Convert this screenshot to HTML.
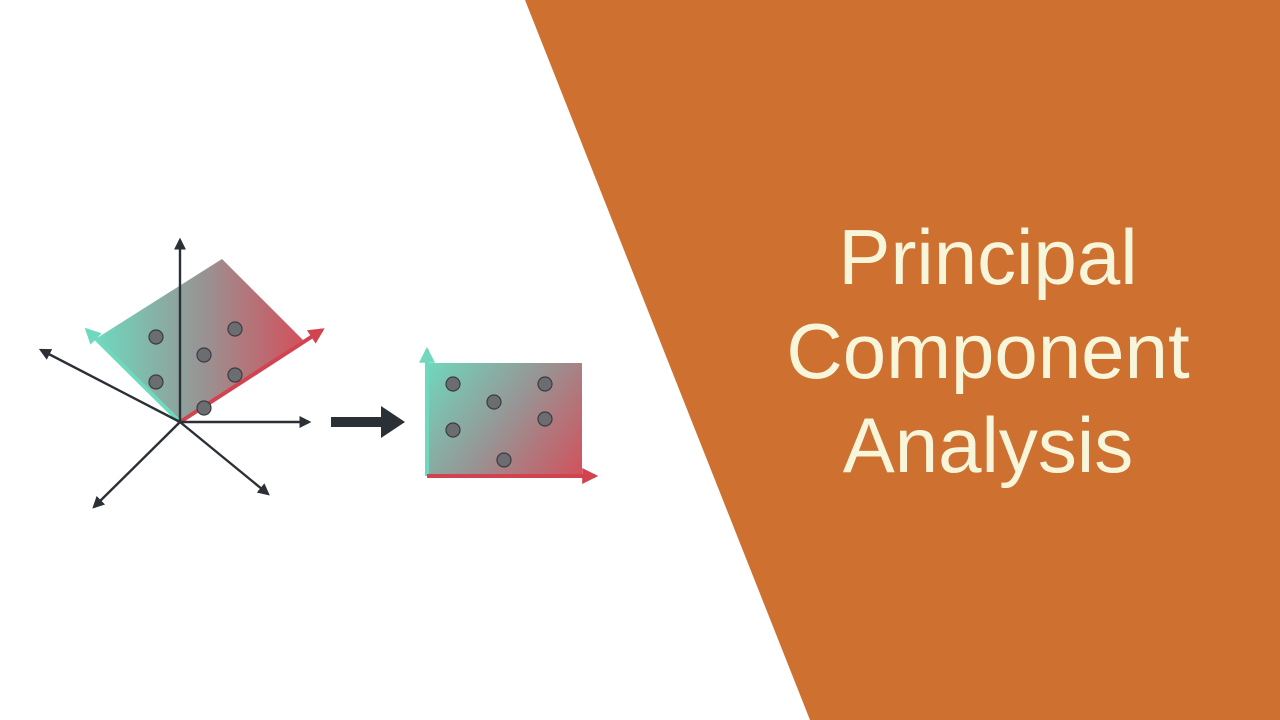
<!DOCTYPE html>
<html><head><style>
body{margin:0;width:1280px;height:720px;overflow:hidden;background:#fff;position:relative;font-family:"Liberation Sans",sans-serif}
.t{position:absolute;left:700px;width:576px;text-align:center;color:#F7F5DA;font-size:78px;line-height:94px;top:210px}
</style></head><body>
<svg width="1280" height="720" style="position:absolute;left:0;top:0">
<defs>
<linearGradient id="g1" x1="97" y1="0" x2="303" y2="0" gradientUnits="userSpaceOnUse"><stop offset="0" stop-color="#6fd8bd"/><stop offset="0.5" stop-color="#979595"/><stop offset="1" stop-color="#d2515c"/></linearGradient>
<linearGradient id="g2" x1="427" y1="363" x2="582" y2="476" gradientUnits="userSpaceOnUse"><stop offset="0" stop-color="#6fd8bd"/><stop offset="0.5" stop-color="#979595"/><stop offset="1" stop-color="#d2515c"/></linearGradient>
<marker id="a" viewBox="0 0 10 10" refX="8" refY="5" markerWidth="5" markerHeight="5" orient="auto"><path d="M0,0L10,5L0,10z" fill="#2b2f36"/></marker>
<marker id="at" viewBox="0 0 10 10" refX="8" refY="5" markerWidth="4" markerHeight="4" orient="auto"><path d="M0,0L10,5L0,10z" fill="#6fd8bd"/></marker>
<marker id="ar" viewBox="0 0 10 10" refX="8" refY="5" markerWidth="4" markerHeight="4" orient="auto"><path d="M0,0L10,5L0,10z" fill="#d2434f"/></marker>
</defs>
<polygon points="525,0 1280,0 1280,720 810,720" fill="#CE702F"/>
<polygon points="180,422 97,338 222,259 303,340" fill="url(#g1)"/>
<line x1="180" y1="422" x2="87" y2="330" stroke="#6fd8bd" stroke-width="4" marker-end="url(#at)"/>
<line x1="180" y1="422" x2="322" y2="330" stroke="#d2434f" stroke-width="4" marker-end="url(#ar)"/>
<g stroke="#2b2f36" stroke-width="2.4" fill="none" marker-end="url(#a)">
<line x1="180" y1="422" x2="180" y2="240"/>
<line x1="180" y1="422" x2="41" y2="350"/>
<line x1="180" y1="422" x2="309" y2="422"/>
<line x1="180" y1="422" x2="94" y2="507"/>
<line x1="180" y1="422" x2="268" y2="494"/>
</g>
<g fill="#6b6d71" stroke="#3a3c40" stroke-width="1.2">
<circle cx="156" cy="337" r="7"/><circle cx="235" cy="329" r="7"/><circle cx="204" cy="355" r="7"/>
<circle cx="156" cy="382" r="7"/><circle cx="235" cy="375" r="7"/><circle cx="204" cy="408" r="7"/>
</g>
<polygon points="331,417 381,417 381,406 405,422 381,438 381,427 331,427" fill="#2b2f36"/>
<rect x="427" y="363" width="155" height="113" fill="url(#g2)"/>
<line x1="427" y1="476" x2="427" y2="350" stroke="#6fd8bd" stroke-width="4" marker-end="url(#at)"/>
<line x1="427" y1="476" x2="595" y2="476" stroke="#d2434f" stroke-width="4" marker-end="url(#ar)"/>
<g fill="#6b6d71" stroke="#3a3c40" stroke-width="1.2">
<circle cx="453" cy="384" r="7"/><circle cx="545" cy="384" r="7"/><circle cx="494" cy="402" r="7"/>
<circle cx="453" cy="430" r="7"/><circle cx="545" cy="419" r="7"/><circle cx="504" cy="460" r="7"/>
</g>
</svg>
<div class="t">Principal<br>Component<br>Analysis</div>
</body></html>
